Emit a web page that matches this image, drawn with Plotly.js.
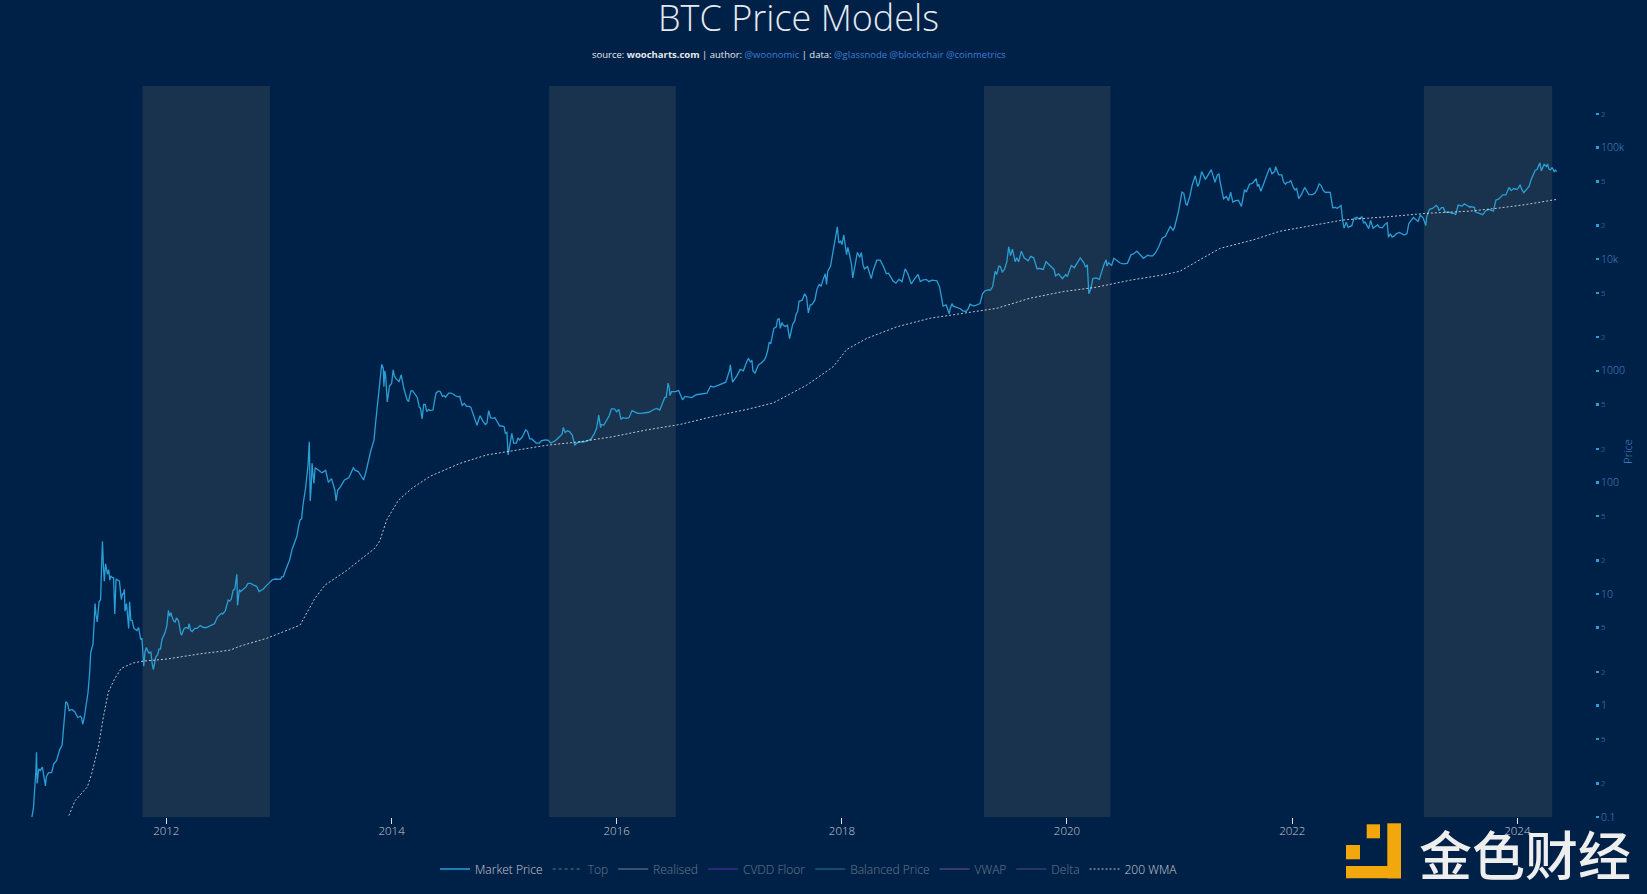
<!DOCTYPE html>
<html>
<head>
<meta charset="utf-8">
<script src="https://cdn.plot.ly/plotly-3.0.1.min.js"></script>
<style>html,body{margin:0;padding:0;background:#002147;}#chart{width:1647px;height:894px;}</style>
</head>
<body>
<div id="chart"></div>
<script>
const priceDates = ['2010-10-08','2010-10-15','2010-10-22','2010-10-27','2010-11-01','2010-11-04','2010-11-06','2010-11-08','2010-11-10','2010-11-13','2010-11-18','2010-11-25','2010-12-01','2010-12-05','2010-12-08','2010-12-15','2010-12-25','2011-01-01','2011-01-10','2011-01-20','2011-01-28','2011-02-05','2011-02-09','2011-02-14','2011-02-20','2011-03-01','2011-03-10','2011-03-20','2011-03-28','2011-04-01','2011-04-05','2011-04-10','2011-04-15','2011-04-22','2011-04-27','2011-05-01','2011-05-08','2011-05-12','2011-05-15','2011-05-18','2011-05-22','2011-05-28','2011-06-02','2011-06-05','2011-06-08','2011-06-11','2011-06-14','2011-06-18','2011-06-24','2011-07-02','2011-07-10','2011-07-18','2011-07-22','2011-07-30','2011-08-08','2011-08-15','2011-08-20','2011-09-01','2011-09-08','2011-09-18','2011-09-28','2011-10-10','2011-10-20','2011-10-28','2011-11-05','2011-11-20','2011-11-28','2011-12-08','2011-12-18','2011-12-28',
'2012-01-08','2012-01-12','2012-01-16','2012-01-20','2012-01-25','2012-01-30','2012-02-05','2012-02-10','2012-02-17','2012-02-20','2012-02-28','2012-03-05','2012-03-12','2012-03-15','2012-03-25','2012-04-02','2012-04-10','2012-04-20','2012-05-01','2012-05-10','2012-05-25','2012-06-05','2012-06-15','2012-06-22','2012-07-01','2012-07-10','2012-07-20','2012-07-30','2012-08-10','2012-08-15','2012-08-17','2012-08-19','2012-08-22','2012-08-29','2012-09-05','2012-09-15','2012-09-22','2012-10-01','2012-10-10','2012-10-20','2012-10-28','2012-11-05','2012-11-10','2012-11-20','2012-11-28','2012-12-10','2012-12-20','2012-12-31',
'2013-01-05','2013-01-10','2013-01-15','2013-01-20','2013-01-28','2013-02-05','2013-02-12','2013-02-20','2013-02-28','2013-03-05','2013-03-10','2013-03-15','2013-03-20','2013-03-28','2013-04-02','2013-04-05','2013-04-09','2013-04-10','2013-04-12','2013-04-15','2013-04-18','2013-04-20','2013-04-24','2013-04-28','2013-05-10','2013-05-20','2013-06-01','2013-06-10','2013-06-20','2013-07-01','2013-07-05','2013-07-10','2013-07-20','2013-08-01','2013-08-15','2013-08-30','2013-09-05','2013-09-15','2013-10-02','2013-10-10','2013-10-25','2013-11-05','2013-11-10','2013-11-18','2013-11-24','2013-11-30','2013-12-05','2013-12-07','2013-12-10','2013-12-13','2013-12-18','2013-12-25',
'2014-01-01','2014-01-06','2014-01-15','2014-02-01','2014-02-10','2014-02-20','2014-03-01','2014-03-10','2014-03-20','2014-04-01','2014-04-10','2014-04-15','2014-04-25','2014-05-01','2014-05-15','2014-05-25','2014-06-02','2014-06-15','2014-06-25','2014-07-05','2014-07-20','2014-08-01','2014-08-10','2014-08-18','2014-09-01','2014-09-10','2014-09-22','2014-10-05','2014-10-15','2014-11-01','2014-11-12','2014-11-25','2014-12-10','2014-12-25',
'2015-01-01','2015-01-10','2015-01-14','2015-01-20','2015-01-26','2015-02-01','2015-02-10','2015-03-01','2015-03-12','2015-03-25','2015-04-15','2015-05-01','2015-05-15','2015-06-01','2015-06-15','2015-07-01','2015-07-12','2015-07-25','2015-08-10','2015-08-18','2015-09-01','2015-10-01','2015-10-20','2015-11-04','2015-11-10','2015-11-20','2015-12-01','2015-12-15','2015-12-25',
'2016-01-01','2016-01-08','2016-01-15','2016-02-01','2016-02-20','2016-03-01','2016-03-20','2016-04-15','2016-05-01','2016-05-20','2016-05-31','2016-06-10','2016-06-16','2016-06-22','2016-06-27','2016-07-10','2016-07-20','2016-08-02','2016-08-10','2016-09-01','2016-09-15','2016-10-01','2016-10-20','2016-11-01','2016-11-10','2016-11-25','2016-12-05','2016-12-20',
'2017-01-01','2017-01-04','2017-01-11','2017-01-25','2017-02-05','2017-02-15','2017-02-25','2017-03-03','2017-03-15','2017-03-25','2017-04-05','2017-04-15','2017-04-30','2017-05-10','2017-05-15','2017-05-25','2017-06-11','2017-06-20','2017-07-01','2017-07-15','2017-07-25','2017-08-01','2017-08-10','2017-08-15','2017-09-02','2017-09-14','2017-09-25','2017-10-05','2017-10-12','2017-10-20','2017-11-01','2017-11-08','2017-11-12','2017-11-25','2017-12-01','2017-12-08','2017-12-17','2017-12-22','2017-12-28',
'2018-01-01','2018-01-07','2018-01-16','2018-01-20','2018-02-05','2018-02-20','2018-03-05','2018-03-15','2018-04-06','2018-04-24','2018-05-05','2018-05-25','2018-06-10','2018-06-25','2018-07-05','2018-07-25','2018-08-14','2018-09-05','2018-09-12','2018-10-01','2018-10-20','2018-11-05','2018-11-14','2018-11-25','2018-12-15','2018-12-24','2018-12-28',
'2019-01-10','2019-01-28','2019-02-07','2019-02-20','2019-03-05','2019-03-25','2019-04-02','2019-04-20','2019-05-05','2019-05-13','2019-05-25','2019-06-05','2019-06-20','2019-06-26','2019-07-02','2019-07-17','2019-07-28','2019-08-06','2019-08-28','2019-09-15','2019-09-26','2019-10-07','2019-10-25','2019-11-20','2019-11-25','2019-12-17',
'2020-01-02','2020-01-15','2020-02-13','2020-02-25','2020-03-07','2020-03-12','2020-03-25','2020-04-05','2020-04-29','2020-05-07','2020-05-15','2020-06-01','2020-06-20','2020-07-15','2020-07-27','2020-08-15','2020-09-05','2020-09-25','2020-10-15','2020-10-25','2020-11-05','2020-11-25','2020-12-01','2020-12-15','2020-12-28',
'2021-01-08','2021-01-25','2021-02-10','2021-02-20','2021-02-28','2021-03-13','2021-03-25','2021-04-13','2021-04-25','2021-05-08','2021-05-19','2021-06-01','2021-06-15','2021-06-22','2021-07-01','2021-07-20','2021-07-30','2021-08-15','2021-08-25','2021-09-06','2021-09-10','2021-09-21','2021-10-01','2021-10-15','2021-10-20','2021-10-27','2021-11-08','2021-11-18','2021-11-28','2021-12-04','2021-12-15','2021-12-27',
'2022-01-05','2022-01-22','2022-02-10','2022-02-24','2022-03-07','2022-03-29','2022-04-10','2022-04-25','2022-05-04','2022-05-09','2022-05-12','2022-06-05','2022-06-13','2022-06-18','2022-06-25','2022-07-01','2022-07-13','2022-07-30','2022-08-15','2022-08-25','2022-09-06','2022-09-12','2022-09-20','2022-10-05','2022-10-20','2022-11-05','2022-11-09','2022-11-21','2022-12-05','2022-12-15','2022-12-30',
'2023-01-08','2023-01-14','2023-01-29','2023-02-13','2023-02-20','2023-03-10','2023-03-13','2023-03-22','2023-04-13','2023-04-30','2023-05-12','2023-05-25','2023-06-10','2023-06-15','2023-06-23','2023-07-13','2023-07-31','2023-08-15','2023-08-17','2023-09-11','2023-10-01','2023-10-15','2023-10-24','2023-11-15','2023-12-05','2023-12-12',
'2024-01-10','2024-01-22','2024-02-08','2024-02-15','2024-02-28','2024-03-14','2024-03-19','2024-03-25','2024-04-05','2024-04-08','2024-04-13','2024-04-18','2024-04-23','2024-04-30','2024-05-03','2024-05-08'];
const priceValues = [.09,.095,.1,.12,.19,.26,.38,.2,.22,.27,.26,.28,.21,.19,.23,.25,.25,.3,.32,.4,.44,.8,1.08,1.05,.9,.92,.88,.78,.8,.78,.68,.78,1.0,1.3,1.9,3.0,3.5,5.5,8.2,6.5,5.6,8.5,8.9,17.6,29.7,18,13,18.6,15,13.3,14,6.6,13.6,13,8.9,10,7,4.9,5.8,4.9,4.7,3.9,2.25,3.3,2.96,2.1,2.7,3.2,3.9,4.5,
7.1,6.3,6.8,6.2,5.7,5.6,6.0,5.7,4.4,4.3,4.9,5.0,4.9,5.4,4.6,4.9,4.9,5.2,5.0,5.0,5.2,5.4,6.2,6.5,6.6,7.0,8.8,9,11,13,15,7.9,10,10.5,11,11.5,12.4,12.4,12,11.7,10.5,10.8,11,11.8,12.4,13.4,13.6,13.5,
13.5,14.2,14.3,15.7,18,20.5,25,29,33,40,46,47,64,89,117,143,231,166,68,90,148,125,98,135,128,122,128,100,108,85,68,85,92,105,110,135,128,125,105,125,190,240,340,600,800,1140,1050,720,1000,880,525,730,
770,1020,850,920,690,550,600,660,600,470,370,500,430,450,445,630,660,590,580,630,620,590,590,490,480,480,410,325,395,330,440,375,350,320,
315,280,176,215,275,225,225,255,295,245,225,235,240,225,235,260,310,290,265,215,230,237,270,400,310,325,370,455,455,
430,450,370,375,440,430,415,425,450,445,530,580,776,600,650,650,665,550,590,575,610,615,630,730,715,740,760,790,
1000,1130,790,900,1030,1000,1180,1290,1240,955,1130,1180,1350,1800,1750,2400,2950,2700,2500,1940,2600,2800,3400,4200,4900,3300,3900,4300,5400,6000,6600,7400,5950,8700,10900,15000,19500,14000,14500,
13500,16500,11000,12800,6800,11500,11500,8200,6700,9800,9800,7400,6800,6100,6600,8200,6000,7300,6300,6600,6500,6400,5600,3800,3250,4000,3800,
3650,3450,3400,3950,3800,4000,4900,5300,5700,7800,8700,7700,9500,12900,10800,9500,9500,11800,9700,10300,8200,8200,9500,8100,7100,6700,
7000,8800,10300,9300,8900,4900,6700,6800,8800,9900,9300,10200,9300,9200,11000,11800,10200,10700,11500,13000,15500,18500,19700,19300,27000,
40000,30600,46000,56000,45000,61000,52000,63500,49000,58000,37000,36500,40000,32500,33500,29800,42000,47000,48000,52700,45000,40700,47000,61500,66000,58500,67500,57000,57000,49000,48800,50700,
43500,35000,44000,38000,38000,47400,42000,40000,39700,30000,29000,29900,22500,19000,21500,19300,20000,23800,24000,21500,18800,22300,19000,20300,19100,21200,15800,15800,17000,17400,16500,
17000,20900,23700,21800,24800,20000,24000,28000,30400,29000,26500,26400,25900,25000,30600,31400,29200,29200,26600,25100,28000,27000,34000,37800,44000,41200,
46500,39500,45000,52000,62500,73100,62000,70000,67800,71600,64000,63500,66500,60500,62900,61000];

// Extra readings that add the finer wiggles of the market price line.
const detailDates = ['2011-05-05','2011-06-20','2011-06-28','2011-07-05','2011-07-14','2011-08-02','2011-08-12','2011-08-18','2011-08-25','2011-09-04','2011-09-12','2011-10-03','2011-10-14','2011-10-24','2011-11-12','2011-11-16','2011-12-05','2011-12-13',
'2012-01-03','2012-02-03','2012-03-20','2012-04-25','2012-05-18','2012-06-28','2012-07-25','2012-08-05','2012-08-25','2012-09-28',
'2014-01-10','2014-01-25','2014-02-05','2014-02-25','2014-03-05','2014-03-15','2014-03-25','2014-04-05','2014-04-20','2014-05-05','2014-05-20','2014-06-08','2014-06-20','2014-07-12','2014-07-25','2014-08-05','2014-08-25','2014-09-05','2014-09-15','2014-09-28','2014-10-10','2014-10-25','2014-11-06','2014-11-18','2014-12-02','2014-12-18',
'2015-01-05','2015-02-15','2015-02-20','2015-03-07','2015-03-18','2015-04-01','2015-04-25','2015-05-25','2015-06-22','2015-07-08','2015-07-18','2015-08-01','2015-08-25','2015-09-15','2015-10-10','2015-10-28','2015-11-12','2015-11-28','2015-12-08',
'2016-01-22','2016-02-10','2016-03-10','2016-04-01','2016-05-10','2016-06-05','2016-06-20',
'2017-03-10','2017-03-18','2017-04-25','2017-05-05','2017-05-20','2017-06-02','2017-06-06','2017-06-15','2017-06-25','2017-07-08','2017-07-20','2017-08-05','2017-08-25','2017-09-08','2017-09-20','2017-10-25','2017-11-16','2017-12-12',
'2018-01-25','2018-02-01','2018-02-12','2018-02-28','2018-03-10','2018-03-25','2018-04-12','2018-05-15','2018-06-01','2018-06-15','2018-07-15','2018-08-02','2018-08-25','2018-09-20','2018-10-10','2018-11-20','2018-12-05','2018-12-18',
'2019-01-20','2019-02-15','2019-03-15','2019-04-10','2019-04-28','2019-05-18','2019-05-30','2019-06-12','2019-07-08','2019-07-22','2019-08-15','2019-09-05','2019-10-01','2019-10-16','2019-10-30','2019-11-08','2019-12-05','2019-12-28',
'2020-01-25','2020-02-03','2020-03-01','2020-03-18','2020-04-15','2020-05-10','2020-05-25','2020-06-10','2020-07-01','2020-08-02','2020-09-20','2020-10-05','2020-11-15','2020-12-10',
'2021-01-03','2021-01-14','2021-01-21','2021-02-03','2021-03-05','2021-04-03','2021-04-20','2021-05-03','2021-05-12','2021-05-23','2021-06-08','2021-07-10','2021-08-05','2021-09-14','2021-10-05','2021-11-05','2021-11-24','2021-12-10','2021-12-22',
'2022-01-10','2022-01-15','2022-02-01','2022-02-18','2022-03-15','2022-03-22','2022-04-05','2022-04-18','2022-05-20','2022-05-27','2022-06-08','2022-07-20','2022-08-05','2022-08-20','2022-10-10','2022-10-29','2022-11-15','2022-11-28',
'2023-03-01','2023-04-01','2023-04-19','2023-04-21','2023-05-06','2023-06-05','2023-06-30','2023-07-06','2023-08-01','2023-09-01','2023-09-20','2023-11-01','2023-11-25','2023-12-20','2023-12-30',
'2024-01-03','2024-01-15','2024-02-01','2024-03-05','2024-03-10','2024-03-28'];
const detailValues = [3.3,17,16.5,14.5,14,13,10,11,8.2,8.5,5.8,5,4.0,3.0,3.0,2.4,2.9,3.2,
5.2,6.1,4.7,5.1,5.1,6.7,8.6,10.8,10.9,12.3,
900,800,800,530,660,630,580,460,500,440,520,650,600,630,600,585,510,480,470,380,360,350,340,380,380,320,
275,250,240,275,285,245,225,238,245,270,280,285,225,230,245,305,330,355,395,
380,380,415,417,460,575,700,
1200,1000,1260,1520,2000,2480,2870,2400,2550,2560,2250,3200,4300,4600,3900,5700,7800,17000,
11200,9000,8800,10400,9000,8600,7900,8700,7500,6400,6300,7500,6700,6500,6300,4500,3900,3600,
3600,3600,3900,5200,5300,7300,8600,8100,12300,10300,10300,10600,8300,8100,9200,8800,7400,7300,
8400,9300,8500,5400,6600,8700,8800,9800,9100,11100,10900,10700,16000,18200,
33000,39000,31000,37000,48000,57000,55000,57000,49000,34800,33500,33800,40000,47000,51500,61000,57000,47000,49000,
41800,43000,38700,40000,39000,42000,45500,39700,29200,28600,30300,23200,23000,21200,19400,20600,16900,16200,
23600,28500,29000,27300,29000,25700,30500,30000,29700,25900,27100,34600,37700,43000,42200,
43000,42500,43000,63800,69000,71000];

const wmaDates = ['2011-02-19','2011-03-11','2011-04-20','2011-05-04','2011-05-26','2011-06-11','2011-06-27','2011-07-18','2011-08-08','2011-09-15','2011-10-18','2012-01-01','2012-04-19','2012-07-26','2012-08-27','2012-11-22','2013-03-10','2013-04-27','2013-05-30','2013-08-08','2013-11-08','2013-11-24','2013-12-16','2014-01-23','2014-03-07','2014-05-05','2014-08-11','2014-11-05','2015-01-20','2015-05-19','2015-09-04','2015-12-21','2016-04-07','2016-07-24','2016-11-10','2017-02-26','2017-05-23','2017-09-09','2017-12-04','2018-01-16','2018-03-22','2018-06-28','2018-10-14','2019-01-30','2019-05-18','2019-09-03','2019-12-20','2020-04-06','2020-07-23','2020-11-08','2021-01-01','2021-02-24','2021-05-11','2021-08-27','2021-11-21','2022-02-27','2022-06-15','2022-11-04','2023-03-13','2023-07-31','2023-10-26','2024-01-31','2024-05-08'];
const wmaValues = [.103,.14,.186,.245,.43,.79,1.32,1.74,2.15,2.4,2.5,2.6,2.9,3.13,3.4,4.0,5.25,9.1,12,16.2,25.7,30,46,69,88,113,148,176,190,215,231,257,295,330,390,450,515,745,1090,1550,1950,2480,2960,3270,3630,4470,5130,5620,6480,7240,7800,9500,12500,14900,17800,19900,22500,24000,25800,27000,28600,31000,34400];

const bandStarts = ['2011-10-16','2015-05-27','2019-04-07','2023-03-04'];
const bandEnds = ['2012-12-02','2016-07-11','2020-05-21','2024-04-23'];

// Series switched off in the reference: only their legend entries show.
const hiddenNames = ['Top','Realised','CVDD Floor','Balanced Price','VWAP','Delta'];
const hiddenColors = ['#3fb59c','#b8b8b8','#8a3fe0','#3f9fb0','#b070c0','#8060b0'];
const hiddenLastDate = ['2024-05-08'];
const hiddenLastValues = [[200000],[29000],[10000],[18000],[30000],[16000]];

const BG = '#002147';
const FONT = '"Open Sans", sans-serif';
const W = 1647, H = 894, L = 10, R = 1595, T = 86, B = 817;
const px = v => (v - L) / (R - L);
const py = v => (B - v) / (B - T);

const merged = priceDates.map((d, i) => [d, priceValues[i]])
  .concat(detailDates.map((d, i) => [d, detailValues[i]]))
  .sort((a, b) => a[0] < b[0] ? -1 : a[0] > b[0] ? 1 : 0);

const traces = [{
  x: merged.map(p => p[0]), y: merged.map(p => p[1]), name: 'Market Price', mode: 'lines',
  line: {color: '#2a9fd6', width: 1.3}
}];
hiddenNames.forEach((n, i) => {
  traces.push({x: hiddenLastDate, y: hiddenLastValues[i], name: n, mode: 'lines', visible: 'legendonly',
    line: {color: hiddenColors[i], width: 1.3, dash: n === 'Top' ? 'dot' : 'solid'}});
});
traces.push({
  x: wmaDates, y: wmaValues, name: '200 WMA', mode: 'lines',
  line: {color: 'rgba(255,255,255,0.72)', width: 1, dash: '2px,2px'}
});

const shapes = bandStarts.map((s, i) => ({
  type: 'rect', xref: 'x', yref: 'paper', x0: s, x1: bandEnds[i], y0: 0, y1: 1,
  fillcolor: '#19334f', line: {width: 0}, layer: 'below'
}));
const logo = [[1366.7,824.3,1380,838.3],[1346,845,1360,859.3],[1387.3,823.3,1401,878.3],[1346,866,1401,878.3]];
logo.forEach(r => shapes.push({
  type: 'rect', xref: 'paper', yref: 'paper', x0: px(r[0]), x1: px(r[2]), y0: py(r[1]), y1: py(r[3]),
  fillcolor: '#f2a70c', line: {width: 0}, layer: 'above'
}));

const layout = {
  width: W, height: H,
  paper_bgcolor: BG, plot_bgcolor: BG,
  font: {family: FONT, color: '#c8ccd2'},
  margin: {l: L, r: W - R, t: T, b: H - B, pad: 0},
  title: {text: 'BTC Price Models', x: 798.5 / W, xanchor: 'center', y: 1 - 18 / H, yanchor: 'middle',
    font: {family: FONT, size: 36, color: '#e6eaf0', weight: 300}},
  xaxis: {
    type: 'date', range: ['2010-08-12', '2024-09-09'], tick0: '2012-01-01', dtick: 'M24',
    showgrid: false, zeroline: false, showline: false, ticks: 'outside', ticklen: 6, tickwidth: 1, tickcolor: '#e0e4ea',
    ticklabelstandoff: -3,
    tickformat: '%Y', tickfont: {family: FONT, size: 11.5, color: '#c8ced6', weight: 300}
  },
  yaxis: {
    type: 'log', side: 'right', range: [-1, 5.553], dtick: 'D2',
    showgrid: false, zeroline: false, showline: false, ticks: 'outside', ticklen: 3, tickwidth: 2.5, tickcolor: '#2a9fd6',
    tickfont: {family: FONT, size: 10.5, color: '#4a8ad0', weight: 300},
    title: {text: 'Price', standoff: 0, font: {family: FONT, size: 11, color: '#4a8ad0', weight: 300}}
  },
  legend: {
    orientation: 'h', x: px(809), xanchor: 'center', y: py(869), yanchor: 'middle',
    bgcolor: 'rgba(0,0,0,0)', font: {family: FONT, size: 12, color: '#c8ccd2', weight: 300}
  },
  shapes: shapes,
  annotations: [
    {xref: 'paper', yref: 'paper', x: px(798.5), y: py(54), xanchor: 'center', yanchor: 'middle', showarrow: false,
     font: {family: FONT, size: 9.5, color: '#e6eaf0'},
     text: 'source: <b>woocharts.com</b> | author: <span style="color:#3a7fd5">@woonomic</span> | data: <span style="color:#3a7fd5">@glassnode @blockchair @coinmetrics</span>'},
    {xref: 'paper', yref: 'paper', x: px(1525), y: py(853), xanchor: 'center', yanchor: 'middle', showarrow: false,
     font: {family: '"Noto Sans CJK SC", sans-serif', size: 53, color: '#eeeeee', weight: 500},
     text: '金色财经'}
  ]
};
Plotly.newPlot('chart', traces, layout, {displayModeBar: false, staticPlot: true});
</script>
</body>
</html>
